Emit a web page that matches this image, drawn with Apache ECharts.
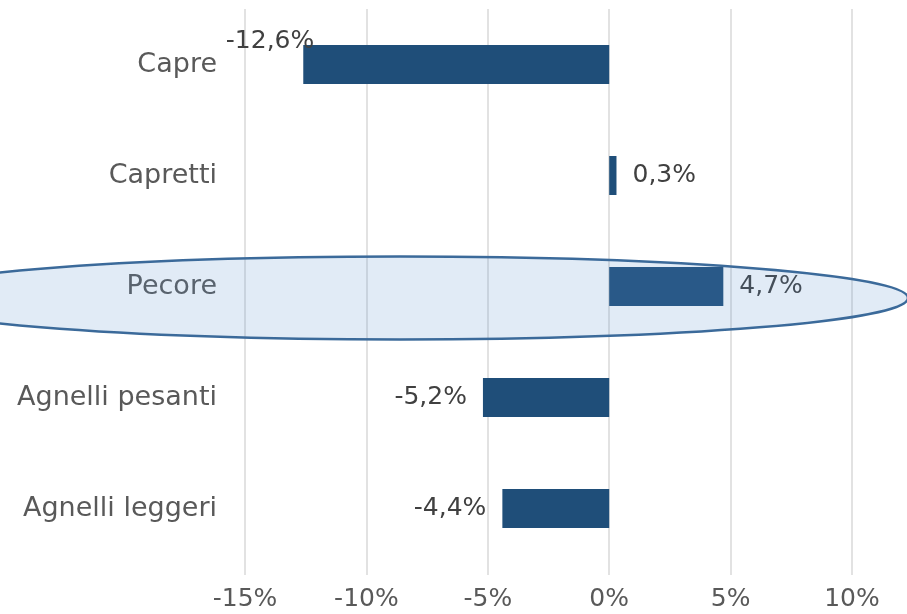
<!DOCTYPE html>
<html>
<head>
<meta charset="utf-8">
<script src="https://cdn.jsdelivr.net/npm/echarts@6/dist/echarts.min.js"></script>
<style>
html,body{margin:0;padding:0;background:#fff;}
#chart{width:907px;height:614px;}
</style>
</head>
<body>
<div id="chart"></div>
<script>
const categories = ['Capre', 'Capretti', 'Pecore', 'Agnelli pesanti', 'Agnelli leggeri'];
const values = [-12.6, 0.3, 4.7, -5.2, -4.4];
const xTicks = [-15, -10, -5, 0, 5, 10];

const FONT = 'DejaVu Sans';
const chart = echarts.init(document.getElementById('chart'), null, {renderer: 'canvas'});

const data = values.map(function (v, i) {
  const item = {value: v, label: {position: v < 0 ? 'left' : 'right'}};
  if (i === 0) item.label.offset = [27, -23];
  return item;
});

chart.setOption({
  animation: false,
  backgroundColor: '#ffffff',
  grid: [
    {left: 245, width: 607, top: 9, height: 555, containLabel: false},
    {left: 245, width: 607, top: 9, height: 566, containLabel: false}
  ],
  xAxis: [
    {gridIndex: 0, type: 'value', min: xTicks[0], max: xTicks[xTicks.length - 1], interval: 5,
     axisLine: {show: false}, axisTick: {show: false}, axisLabel: {show: false}, splitLine: {show: false}},
    {gridIndex: 1, type: 'value', min: xTicks[0], max: xTicks[xTicks.length - 1], interval: 5,
     axisLine: {show: false}, axisTick: {show: false},
     splitLine: {show: true, lineStyle: {color: '#d9d9d9', width: 1.5}},
     axisLabel: {formatter: function (v) { return v + '%'; }, margin: 12, fontSize: 25,
                 color: '#595959', fontFamily: FONT}}
  ],
  yAxis: [
    {gridIndex: 0, type: 'category', inverse: true, data: categories,
     axisLine: {show: false}, axisTick: {show: false},
     axisLabel: {margin: 28, fontSize: 27, color: '#595959', fontFamily: FONT}},
    {gridIndex: 1, type: 'value', show: false, min: 0, max: 1}
  ],
  series: [{
    type: 'bar',
    xAxisIndex: 0,
    yAxisIndex: 0,
    data: data,
    barWidth: 39,
    itemStyle: {color: '#1f4e79'},
    label: {
      show: true,
      distance: 16,
      fontSize: 25,
      color: '#404040',
      fontFamily: FONT,
      formatter: function (p) { return p.value.toFixed(1).replace('.', ',') + '%'; }
    }
  }],
  graphic: [{
    type: 'ellipse',
    z: 100,
    silent: true,
    shape: {cx: 400, cy: 298, rx: 508, ry: 41.5},
    style: {fill: 'rgba(88,144,205,0.18)', stroke: '#3b6a9a', lineWidth: 2.5}
  }]
});
</script>
</body>
</html>
